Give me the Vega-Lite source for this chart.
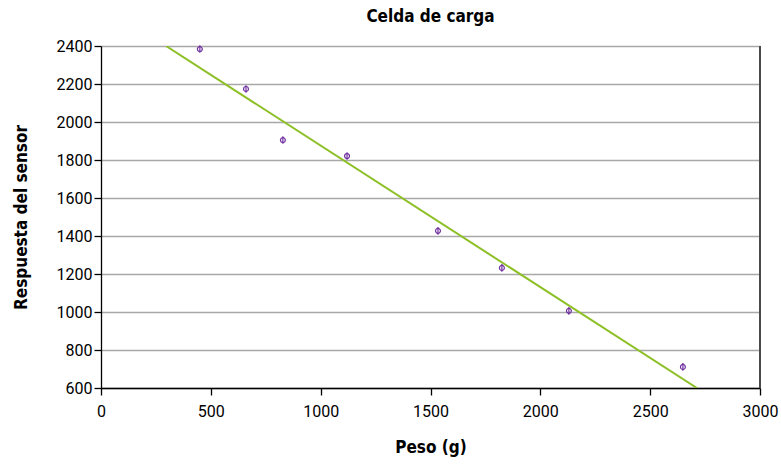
{
  "$schema": "https://vega.github.io/schema/vega-lite/v6.json",
  "width": 659,
  "height": 342,
  "autosize": {"type": "none"},
  "padding": {"left": 101, "top": 46, "right": 21, "bottom": 78},
  "background": "white",
  "title": {"text": "Celda de carga", "font": "DejaVu Sans Condensed", "fontSize": 17, "fontWeight": "bold", "color": "black", "anchor": "middle", "frame": "group", "offset": 14, "baseline": "bottom", "dy": 19},
  "config": {
    "view": {"stroke": null},
    "axis": {"labelFont": "Roboto", "labelFontSize": 16, "labelColor": "black", "labelOverlap": false, "labelFlush": false, "format": "d", "titleFont": "DejaVu Sans Condensed", "titleFontSize": 17, "titleFontWeight": "bold", "titleColor": "black", "domainColor": "black", "tickColor": "black", "tickSize": 7, "domainWidth": 1.3, "tickWidth": 1.3}
  },
  "datasets": {
    "pts": [
      {"peso": 450, "resp": 2384, "lo": 2364, "hi": 2404},
      {"peso": 660, "resp": 2174, "lo": 2154, "hi": 2194},
      {"peso": 828, "resp": 1905, "lo": 1885, "hi": 1925},
      {"peso": 1120, "resp": 1821, "lo": 1801, "hi": 1841},
      {"peso": 1534, "resp": 1427, "lo": 1407, "hi": 1447},
      {"peso": 1825, "resp": 1232, "lo": 1212, "hi": 1252},
      {"peso": 2130, "resp": 1006, "lo": 986, "hi": 1026},
      {"peso": 2649, "resp": 711, "lo": 691, "hi": 731}
    ],
    "trend": [
      {"peso": 296, "resp": 2400},
      {"peso": 2713, "resp": 600}
    ]
  },
  "encoding": {
    "x": {"field": "peso", "type": "quantitative", "scale": {"domain": [0, 3000], "nice": false},
      "axis": {"title": "Peso (g)", "values": [0, 500, 1000, 1500, 2000, 2500, 3000], "grid": false, "labelPadding": 8, "titlePadding": 20}},
    "y": {"field": "resp", "type": "quantitative", "scale": {"domain": [600, 2400], "nice": false, "zero": false},
      "axis": {"title": "Respuesta del sensor", "values": [600, 800, 1000, 1200, 1400, 1600, 1800, 2000, 2200, 2400], "grid": true, "gridColor": "#a8a8a8", "gridWidth": 1.5, "labelPadding": 2, "titlePadding": 26}}
  },
  "layer": [
    {
      "data": {"name": "trend"},
      "mark": {"type": "line", "color": "#8dbf26", "strokeWidth": 2, "clip": true}
    },
    {
      "data": {"values": [{"peso": 3000}]},
      "mark": {"type": "rule", "color": "#4a4a4a", "strokeWidth": 2},
      "encoding": {"y": null}
    },
    {
      "data": {"name": "pts"},
      "mark": {"type": "rule", "color": "#7030a0", "strokeWidth": 1.2},
      "encoding": {
        "y": {"field": "lo", "type": "quantitative", "scale": {"domain": [600, 2400], "nice": false, "zero": false},
          "axis": {"title": "Respuesta del sensor", "values": [600, 800, 1000, 1200, 1400, 1600, 1800, 2000, 2200, 2400], "grid": true, "gridColor": "#a8a8a8", "gridWidth": 1.5, "labelPadding": 2, "titlePadding": 26}},
        "y2": {"field": "hi"}
      }
    },
    {
      "data": {"name": "pts"},
      "mark": {"type": "point", "shape": "circle", "filled": false, "color": "#7030a0", "size": 24, "strokeWidth": 1.2, "opacity": 1}
    }
  ]
}
